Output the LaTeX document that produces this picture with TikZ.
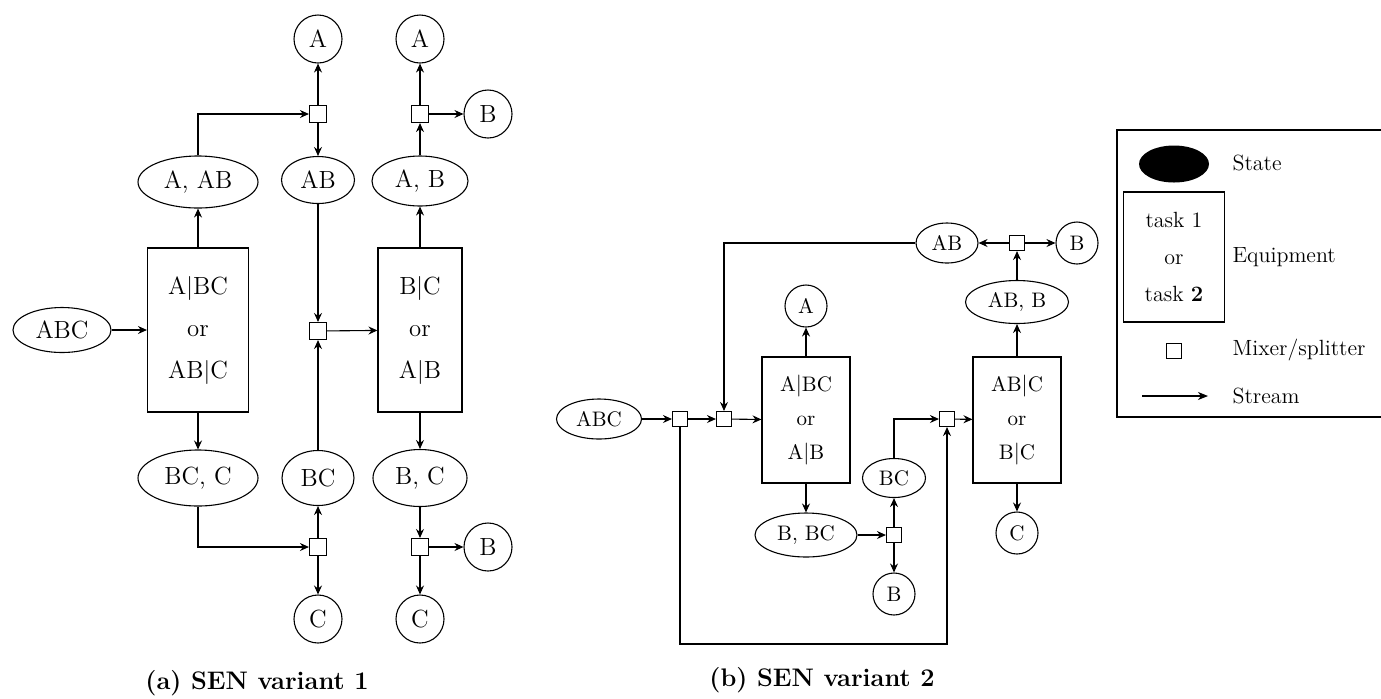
\documentclass[tikz,border=0pt]{standalone}
\usetikzlibrary{arrows.meta,shapes.geometric,calc}
\newcommand\fontA{\fontsize{12.4}{21}\selectfont}
\newcommand\fontB{\fontsize{10.5}{17}\selectfont}
\newcommand\fontL{\fontsize{11}{18.5}\selectfont}
\newcommand\fontC{\fontsize{12.7}{15}\selectfont\bfseries}
\begin{document}
\begin{tikzpicture}[x=0.5pt,y=-0.5pt,
  line width=0.55pt,
  arr/.style={-{Stealth[length=4.5pt,width=4pt,inset=1.5pt]}},
  ell/.style={ellipse,draw,inner sep=0pt},
  circA/.style={circle,draw,inner sep=0pt,minimum size=24pt,font=\fontA},
  circB/.style={circle,draw,inner sep=0pt,minimum size=21pt,font=\fontB},
  sqA/.style={draw,fill=white,inner sep=0pt,minimum size=8.5pt},
  sqB/.style={draw,fill=white,inner sep=0pt,minimum size=7.5pt},
  boxA/.style={draw,inner sep=0pt,align=center,font=\fontA},
  boxB/.style={draw,inner sep=0pt,minimum width=44pt,minimum height=63pt,align=center,font=\fontB},
  ellA/.style={ell,font=\fontA},
  ellB/.style={ell,font=\fontB},
  leg/.style={anchor=west,font=\fontL,inner sep=0pt}
]
\useasboundingbox (0,0) rectangle (1381,698);

% ---------- (a) ----------
\node[ellA,minimum width=49pt,minimum height=22.5pt] (abc) at (62,330) {ABC};
\node[boxA,minimum width=50.5pt,minimum height=82pt] (b1) at (198,330) {A$|$BC\\or\\AB$|$C};
\node[boxA,minimum width=42pt,minimum height=82pt] (b2) at (420,330) {B$|$C\\or\\A$|$B};
\node[ellA,minimum width=60pt,minimum height=26pt] (aab) at (198,182) {A, AB};
\node[ellA,minimum width=36.5pt,minimum height=23.5pt] (ab) at (318,180) {AB};
\node[ellA,minimum width=48pt,minimum height=25pt] (ab2) at (420,181) {A, B};
\node[ellA,minimum width=60pt,minimum height=28pt] (bcc) at (198,478) {BC, C};
\node[ellA,minimum width=36pt,minimum height=27.5pt] (bc) at (318,478) {BC};
\node[ellA,minimum width=47pt,minimum height=28.5pt] (bc2) at (420,478) {B, C};
\node[sqA] (s1) at (318,114) {};
\node[sqA] (s2) at (420,114) {};
\node[sqA] (m1) at (318,331) {};
\node[sqA] (s3) at (318,547) {};
\node[sqA] (s4) at (420,547) {};
\node[circA] (A1) at (318,39) {A};
\node[circA] (A2) at (420,39) {A};
\node[circA] (B1) at (488,114) {B};
\node[circA] (B2) at (488,547) {B};
\node[circA] (C1) at (318,619) {C};
\node[circA] (C2) at (420,619) {C};

\draw[arr] (abc) -- (b1);
\draw[arr] (b1) -- (aab);
\draw[arr] (aab.north) |- (s1);
\draw[arr] (s1) -- (A1);
\draw[arr] (s1) -- (ab);
\draw[arr] (ab) -- (m1);
\draw[arr] (m1) -- (b2);
\draw[arr] (b2) -- (ab2);
\draw[arr] (ab2) -- (s2);
\draw[arr] (s2) -- (A2);
\draw[arr] (s2) -- (B1);
\draw[arr] (b2) -- (bc2);
\draw[arr] (bc2) -- (s4);
\draw[arr] (s4) -- (B2);
\draw[arr] (s4) -- (C2);
\draw[arr] (b1) -- (bcc);
\draw[arr] (bcc.south) |- (s3);
\draw[arr] (s3) -- (bc);
\draw[arr] (s3) -- (C1);
\draw[arr] (bc) -- (m1);

\node[font=\fontC] (capa) at (257,683) {(a) SEN variant 1};

% ---------- (b) ----------
\node[ellB,minimum width=42.5pt,minimum height=20pt] (abcb) at (599,419) {ABC};
\node[sqB] (t1) at (680,419) {};
\node[sqB] (t2) at (724,419) {};
\node[boxB] (e1) at (806,420) {A$|$BC\\or\\A$|$B};
\node[boxB] (e2) at (1017,420) {AB$|$C\\or\\B$|$C};
\node[sqB] (t3) at (947,419) {};
\node[sqB] (t4) at (894,535) {};
\node[sqB] (t5) at (1017,243) {};
\node[ellB,minimum width=31pt,minimum height=20pt] (abtop) at (947,243) {AB};
\node[ellB,minimum width=51.5pt,minimum height=21.5pt] (abb) at (1017,302) {AB, B};
\node[ellB,minimum width=31.5pt,minimum height=19.5pt] (bcb) at (894,478) {BC};
\node[ellB,minimum width=51pt,minimum height=22pt] (bbc) at (806,535) {B, BC};
\node[circB] (Ab) at (806,306) {A};
\node[circB] (Bt) at (1077,243) {B};
\node[circB] (Bb) at (894,594) {B};
\node[circB] (Cb) at (1017,533) {C};
\coordinate (loopc) at (814,644);

\draw[arr] (abcb) -- (t1);
\draw[arr] (t1) -- (t2);
\draw[arr] (t2) -- (e1);
\draw[arr] (e1) -- (Ab);
\draw[arr] (e1) -- (bbc);
\draw[arr] (bbc) -- (t4);
\draw[arr] (t4) -- (bcb);
\draw[arr] (t4) -- (Bb);
\draw[arr] (bcb.north) |- (t3);
\draw[arr] (t3) -- (e2);
\draw[arr] (e2) -- (abb);
\draw[arr] (e2) -- (Cb);
\draw[arr] (abb) -- (t5);
\draw[arr] (t5) -- (abtop);
\draw[arr] (t5) -- (Bt);
\draw[arr] (abtop.west) -| (t2.north);
\draw[arr] (t1.south) |- (loopc) -| (t3.south);

\node[font=\fontC] (capb) at (822,680) {(b) SEN variant 2};

% ---------- legend ----------
\draw (1400,130) -- (1117,130) -- (1117,417) -- (1400,417);
\node[ellipse,fill=black,inner sep=0pt,minimum width=35pt,minimum height=18.5pt] (lstate) at (1174,164) {};
\node[draw,inner sep=0pt,minimum width=50.5pt,minimum height=65pt,align=center,font=\fontL] (ltask) at (1174,257) {task 1\\or\\task \textbf{2}};
\node[draw,inner sep=0pt,minimum size=7.5pt] (lmix) at (1174,351) {};
\coordinate (ls1) at (1142,396);
\coordinate (ls2) at (1208,396);
\draw[-{Stealth[length=5pt,width=4pt,inset=1.5pt]}] (ls1) -- (ls2);
\node[leg] (tstate) at (1232,163) {State};
\node[leg] (tequip) at (1232,257) {Equipment};
\node[leg] (tmix) at (1232,350) {Mixer/splitter};
\node[leg] (tstream) at (1232,396) {Stream};
\end{tikzpicture}
\end{document}
